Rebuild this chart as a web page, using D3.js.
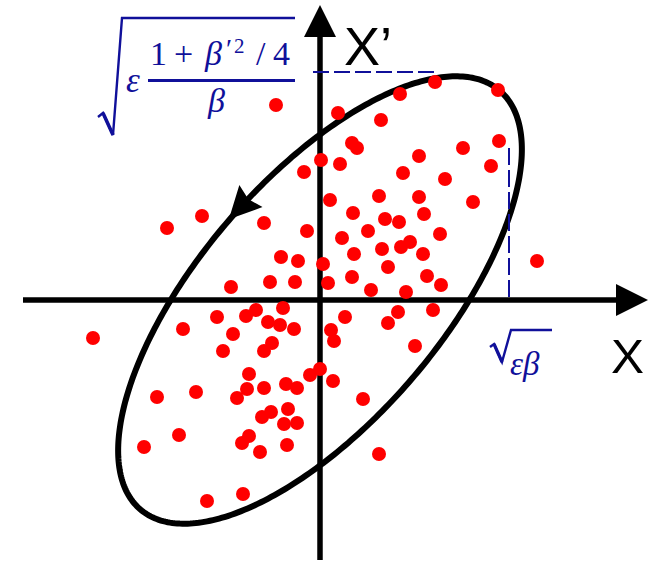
<!DOCTYPE html>
<html>
<head>
<meta charset="utf-8">
<script src="https://cdn.jsdelivr.net/npm/d3@7"></script>
<style>
  html, body { margin: 0; padding: 0; background: #fff; }
  svg { display: block; }
</style>
</head>
<body>
<svg id="chart" width="655" height="563"></svg>
<script>
// Particle positions in trace space: x and x' (normalised units)
const particleX = [
  -0.44, 0.18, 0.61, 0.32, 0.37, 0.01, 0.20, -0.16, 0.10, 0.59,
  0.33, -1.18, -1.53, -0.56, -0.13, 0.22, 0.65, 0.48, 0.34, 0.62,
  0.68, -0.39, -0.22, 0.03, 0.32, -0.50, -0.25, 0.08, 0.51, -0.89,
  1.15, 0.80, 1.78, 1.79, 1.43, 0.99, 1.71, 0.83, 1.25, 0.99,
  1.53, 0.79, 1.04, 1.20, 0.81, 0.90, 1.03, 2.17, 1.07, 0.86,
  1.21, -2.27, -1.37, -1.03, -0.74, -0.64, -0.37, -0.52, -0.40, -0.26,
  -0.87, -0.97, -0.56, -0.48, 0.11, 0.14, -0.71, -0.73, -0.83, -0.56,
  -0.34, -0.23, -0.10, 0.00, 0.13, -1.24, -1.63, -0.58, -0.49, -0.32,
  -0.36, -0.23, -1.41, -1.76, -0.78, -0.71, -0.60, -0.33, -1.13, -0.77,
  0.25, 0.68, 0.78, 1.13, 0.95, 0.43, 0.59
];
const particleXp = [
  1.95, 1.87, 1.80, 1.57, 1.52, 1.40, 1.36, 1.28, 1.00, 1.04,
  0.87, 0.84, 0.72, 0.77, 0.69, 0.62, 0.81, 0.69, 0.46, 0.51,
  0.33, 0.43, 0.39, 0.36, 0.23, 0.18, 0.18, 0.17, 0.10, 0.13,
  2.18, 2.06, 2.10, 1.59, 1.52, 1.44, 1.34, 1.27, 1.21, 1.03,
  0.98, 0.78, 0.86, 0.66, 0.53, 0.58, 0.46, 0.39, 0.24, 0.08,
  0.15, -0.38, -0.29, -0.17, -0.16, -0.10, -0.08, -0.22, -0.25, -0.29,
  -0.34, -0.51, -0.51, -0.43, -0.30, -0.41, -0.74, -0.89, -0.98, -0.88,
  -0.84, -0.88, -0.75, -0.69, -0.81, -0.92, -0.97, -1.17, -1.12, -1.09,
  -1.24, -1.23, -1.35, -1.47, -1.43, -1.36, -1.52, -1.45, -2.01, -1.94,
  -0.17, -0.23, -0.12, -0.10, -0.46, -0.99, -1.54
];

// Emittance and Twiss parameters of the bounding ellipse
const emittance = 3.34;
const betaTwiss = 1.22;
const alphaTwiss = -0.91;
// Phase at which the direction-of-motion arrow sits on the ellipse
const arrowPhase = -1.92;

// Extents of the two axes
const xExtent = [-2.97, 3.28];
const xpExtent = [-2.6, 2.95];
// Dashed guides: horizontal at x' = guideXp spanning guideXpSpan in x,
// vertical at x = guideX spanning guideXSpan in x'
const guideXp = 2.28;
const guideXpSpan = [-0.07, 1.15];
const guideX = 1.89;
const guideXSpan = [1.52, 0];
const axisTitles = ["X", "X\u2019"];

const svg = d3.select("#chart");

const x = d3.scaleLinear().domain([-3, 3.3]).range([20, 650]);
const y = d3.scaleLinear().domain([-2.6, 3.0]).range([560, 0]);

const blue = "#10109a";

// ---- axes with arrowheads ----
const head = 32, halfW = 16;
const gAxes = svg.append("g");
gAxes.append("line")
  .attr("x1", x(xExtent[0])).attr("x2", x(xExtent[1]) - head + 2)
  .attr("y1", y(0)).attr("y2", y(0))
  .attr("stroke", "#000").attr("stroke-width", 5.5);
gAxes.append("path")
  .attr("d", d3.line()([[x(xExtent[1]), y(0)], [x(xExtent[1]) - head, y(0) - halfW], [x(xExtent[1]) - head, y(0) + halfW]]) + "Z")
  .attr("fill", "#000");
gAxes.append("line")
  .attr("x1", x(0)).attr("x2", x(0))
  .attr("y1", y(xpExtent[0])).attr("y2", y(xpExtent[1]) + head - 2)
  .attr("stroke", "#000").attr("stroke-width", 5.5);
gAxes.append("path")
  .attr("d", d3.line()([[x(0), y(xpExtent[1])], [x(0) - halfW, y(xpExtent[1]) + head], [x(0) + halfW, y(xpExtent[1]) + head]]) + "Z")
  .attr("fill", "#000");

// ---- phase-space ellipse ----
const sqEB = Math.sqrt(emittance * betaTwiss);
const sqEoB = Math.sqrt(emittance / betaTwiss);
const ellipseAt = phi => [
  sqEB * Math.cos(phi),
  -sqEoB * (alphaTwiss * Math.cos(phi) + Math.sin(phi))
];
const phases = d3.range(0, 2 * Math.PI, Math.PI / 180);
svg.append("path")
  .attr("d", d3.line().x(d => x(d[0])).y(d => y(d[1])).curve(d3.curveLinearClosed)(phases.map(ellipseAt)))
  .attr("fill", "none").attr("stroke", "#000").attr("stroke-width", 6);

// arrow showing the sense of rotation (towards decreasing phase)
{
  const p = ellipseAt(arrowPhase);
  const q = ellipseAt(arrowPhase - 0.01);
  const bx = x(p[0]), by = y(p[1]);
  let dx = x(q[0]) - bx, dy = y(q[1]) - by;
  const n = Math.hypot(dx, dy); dx /= n; dy /= n;
  const L = 32, hw = 16;
  const tip = [bx + dx * L, by + dy * L];
  const c1 = [bx - dy * hw, by + dx * hw];
  const c2 = [bx + dy * hw, by - dx * hw];
  svg.append("path").attr("d", d3.line()([tip, c1, [bx + dx * 4, by + dy * 4], c2]) + "Z").attr("fill", "#000");
}

// ---- dashed guides ----
svg.append("line")
  .attr("x1", x(guideXpSpan[0])).attr("x2", x(guideXpSpan[1]))
  .attr("y1", y(guideXp)).attr("y2", y(guideXp))
  .attr("stroke", blue).attr("stroke-width", 2).attr("stroke-dasharray", "16,5");
svg.append("line")
  .attr("x1", x(guideX)).attr("x2", x(guideX))
  .attr("y1", y(guideXSpan[0])).attr("y2", y(guideXSpan[1]))
  .attr("stroke", blue).attr("stroke-width", 2).attr("stroke-dasharray", "17,5");

// ---- particles ----
svg.append("g").selectAll("circle")
  .data(particleX.map((v, i) => [v, particleXp[i]]))
  .join("circle")
  .attr("cx", d => x(d[0])).attr("cy", d => y(d[1]))
  .attr("r", 7).attr("fill", "#ff0000");

// ---- axis titles ----
svg.append("text").text(axisTitles[1])
  .attr("x", 344).attr("y", 65)
  .attr("font-family", "'Liberation Sans', Arial, sans-serif").attr("font-size", 54)
  .attr("textLength", 48).attr("lengthAdjust", "spacingAndGlyphs");
svg.append("text").text(axisTitles[0])
  .attr("x", 611).attr("y", 373)
  .attr("font-family", "'Liberation Sans', Arial, sans-serif").attr("font-size", 49)
  .attr("textLength", 33).attr("lengthAdjust", "spacingAndGlyphs");

// ---- formula: sqrt(eps (1 + beta'^2/4) / beta) ----
const math = svg.append("g").attr("fill", blue)
  .attr("font-family", "'Liberation Serif', 'DejaVu Serif', serif");
svg.append("path")
  .attr("d", "M98,117 L103,113 L113,135 L122,18 L295,18")
  .attr("fill", "none").attr("stroke", blue).attr("stroke-width", 2.4).attr("stroke-linejoin", "miter");
svg.append("path").attr("d", "M103,113 L113,135").attr("stroke", blue).attr("stroke-width", 3.5);
math.append("text").text("\u03b5").attr("x", 126).attr("y", 92).attr("font-size", 35).attr("font-style", "italic");
const numer = [
  { t: "1", x: 150, y: 65, s: 34, it: false },
  { t: "+", x: 174, y: 65, s: 34, it: false },
  { t: "\u03b2", x: 205, y: 65, s: 34, it: true },
  { t: "\u2032", x: 226, y: 58, s: 28, it: false },
  { t: "2", x: 234, y: 53, s: 21, it: false },
  { t: "/", x: 256, y: 65, s: 34, it: false },
  { t: "4", x: 273, y: 65, s: 34, it: false }
];
math.selectAll("text.num").data(numer).join("text").attr("class", "num")
  .text(d => d.t).attr("x", d => d.x).attr("y", d => d.y)
  .attr("font-size", d => d.s).attr("font-style", d => d.it ? "italic" : "normal");
math.append("rect").attr("x", 148).attr("y", 79).attr("width", 147).attr("height", 3);
math.append("text").text("\u03b2").attr("x", 208).attr("y", 112).attr("font-size", 34).attr("font-style", "italic");

// ---- formula: sqrt(eps beta) ----
svg.append("path")
  .attr("d", "M490,347 L494,344 L502,362 L511,330 L552,330")
  .attr("fill", "none").attr("stroke", blue).attr("stroke-width", 2.4);
svg.append("path").attr("d", "M494,344 L502,362").attr("stroke", blue).attr("stroke-width", 3.2);
math.append("text").text("\u03b5\u03b2").attr("x", 510).attr("y", 375).attr("font-size", 33).attr("font-style", "italic");
</script>
</body>
</html>
